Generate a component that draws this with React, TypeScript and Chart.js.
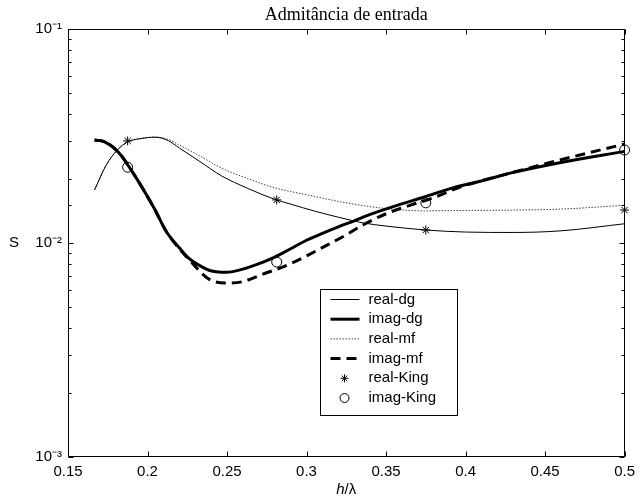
import React, { useEffect, useRef } from 'react';
import { Chart, registerables } from 'chart.js';

Chart.register(...registerables);

const TITLE = 'Admitância de entrada';
const X_TITLE_ITALIC = 'h';
const X_TITLE_REST = '/λ';
const Y_TITLE = 'S';

const X_MIN = 0.15;
const X_MAX = 0.5;
const X_STEP = 0.05;
const Y_MIN = 0.001;
const Y_MAX = 0.1;

const seriesLabels = ['real-dg', 'imag-dg', 'real-mf', 'imag-mf', 'real-King', 'imag-King'];

const realDgX = [0.1667, 0.174, 0.181, 0.1875, 0.195, 0.205, 0.213, 0.22, 0.233, 0.2465, 0.263, 0.28, 0.29, 0.305, 0.32, 0.336, 0.35, 0.375, 0.4, 0.43, 0.46, 0.5];
const realDgY = [0.0177, 0.0231, 0.0272, 0.0297, 0.0307, 0.0312, 0.0301, 0.0278, 0.024, 0.0206, 0.018, 0.016, 0.0152, 0.0141, 0.0132, 0.0124, 0.012, 0.0115, 0.01125, 0.0112, 0.0114, 0.0123];

const imagDgX = [0.1667, 0.173, 0.182, 0.1917, 0.204, 0.212, 0.22, 0.2259, 0.232, 0.2403, 0.25, 0.257, 0.268, 0.28, 0.29, 0.3, 0.31, 0.32, 0.33, 0.34, 0.357, 0.374, 0.392, 0.41, 0.428, 0.46, 0.5];
const imagDgY = [0.0303, 0.0297, 0.0264, 0.0208, 0.0146, 0.01125, 0.0095, 0.0085, 0.0079, 0.0074, 0.0073, 0.00745, 0.0079, 0.0086, 0.0094, 0.0103, 0.0111, 0.0119, 0.0127, 0.0136, 0.015, 0.0164, 0.0181, 0.0195, 0.0212, 0.0238, 0.0268];

const realMfX = [0.1667, 0.174, 0.181, 0.1875, 0.195, 0.205, 0.213, 0.22, 0.233, 0.2465, 0.263, 0.28, 0.3, 0.3256, 0.346, 0.374, 0.4, 0.43, 0.46, 0.5];
const realMfY = [0.0177, 0.0231, 0.0272, 0.0297, 0.0307, 0.0313, 0.0305, 0.0287, 0.0255, 0.0224, 0.02, 0.0181, 0.0168, 0.01538, 0.0146, 0.01413, 0.0142, 0.01425, 0.0144, 0.015];

const imagMfX = [0.1667, 0.173, 0.182, 0.1917, 0.204, 0.212, 0.218, 0.2278, 0.2384, 0.249, 0.26, 0.2714, 0.2883, 0.3132, 0.3238, 0.336, 0.35, 0.365, 0.38, 0.397, 0.428, 0.46, 0.5];
const imagMfY = [0.0303, 0.0297, 0.0264, 0.0208, 0.0146, 0.01125, 0.0098, 0.0081, 0.0068, 0.0065, 0.0066, 0.0071, 0.0079, 0.0098, 0.0108, 0.0122, 0.0137, 0.015, 0.0163, 0.0183, 0.0212, 0.0245, 0.029];

const kingX = [0.1875, 0.28125, 0.375, 0.5];
const realKingY = [0.03, 0.0159, 0.0115, 0.01425];
const imagKingY = [0.0226, 0.00815, 0.0154, 0.0272];

const SANS = 'Arial, "Liberation Sans", Helvetica, sans-serif';
const SERIF = '"Times New Roman", "Liberation Serif", serif';

const zip = (xs: number[], ys: number[]) => xs.map((x, i) => ({ x, y: ys[i] }));

const SUP: Record<string, string> = { '-': '⁻', '0': '⁰', '1': '¹', '2': '²', '3': '³', '4': '⁴', '5': '⁵' };
const supStr = (n: number) => String(n).split('').map((c) => SUP[c] || c).join('');

const isPow10 = (v: number) => {
  const e = Math.log10(v);
  return Math.abs(e - Math.round(e)) < 1e-6;
};

function drawStar(ctx: CanvasRenderingContext2D, x: number, y: number, r: number) {
  ctx.beginPath();
  ctx.moveTo(x - r, y); ctx.lineTo(x + r, y);
  ctx.moveTo(x, y - r); ctx.lineTo(x, y + r);
  const d = r * 0.7071;
  ctx.moveTo(x - d, y - d); ctx.lineTo(x + d, y + d);
  ctx.moveTo(x - d, y + d); ctx.lineTo(x + d, y - d);
  ctx.stroke();
}

const framePlugin = {
  id: 'matlabFrame',
  afterDraw(chart: any) {
    const { ctx, chartArea: ca, scales } = chart;
    const xs = scales.x;
    const ys = scales.y;
    const L = Math.round(ca.left) + 0.5;
    const R = Math.round(ca.right) - 0.5;
    const T = Math.round(ca.top) + 0.5;
    const B = Math.round(ca.bottom) - 0.5;
    ctx.save();
    ctx.strokeStyle = '#000';
    ctx.lineWidth = 1;
    ctx.setLineDash([]);
    ctx.strokeRect(L, T, R - L, B - T);
    ctx.beginPath();
    xs.ticks.forEach((t: any) => {
      const px = Math.round(xs.getPixelForValue(t.value)) + 0.5;
      ctx.moveTo(px, B); ctx.lineTo(px, B - 5);
      ctx.moveTo(px, T); ctx.lineTo(px, T + 5);
    });
    ys.ticks.forEach((t: any) => {
      const py = Math.round(ys.getPixelForValue(t.value)) + 0.5;
      const len = isPow10(t.value) ? 5 : 3;
      ctx.moveTo(L, py); ctx.lineTo(L + len, py);
      ctx.moveTo(R, py); ctx.lineTo(R - len, py);
    });
    ctx.stroke();

    // axis titles
    ctx.fillStyle = '#000';
    ctx.textBaseline = 'middle';
    ctx.textAlign = 'center';
    ctx.font = `15px ${SANS}`;
    ctx.fillText(Y_TITLE, 14, ys.getPixelForValue(0.01));
    const italicFont = `italic 15px ${SANS}`;
    const normalFont = `15px ${SANS}`;
    ctx.font = italicFont;
    const w1 = ctx.measureText(X_TITLE_ITALIC).width;
    ctx.font = normalFont;
    const w2 = ctx.measureText(X_TITLE_REST).width;
    const cx = (ca.left + ca.right) / 2;
    const ty = 490;
    ctx.textAlign = 'left';
    ctx.font = italicFont;
    ctx.fillText(X_TITLE_ITALIC, cx - (w1 + w2) / 2, ty);
    ctx.font = normalFont;
    ctx.fillText(X_TITLE_REST, cx - (w1 + w2) / 2 + w1, ty);

    // legend
    const lx = Math.round(ca.left + 252) + 0.5;
    const ly = Math.round(ca.top + 260) + 0.5;
    const lw = 137;
    const lh = 126;
    ctx.fillStyle = '#fff';
    ctx.fillRect(lx, ly, lw, lh);
    ctx.strokeStyle = '#000';
    ctx.lineWidth = 1;
    ctx.strokeRect(lx, ly, lw, lh);
    chart.data.datasets.forEach((ds: any, i: number) => {
      const cy = ly + 10 + i * 19.7;
      ctx.save();
      ctx.strokeStyle = ds.borderColor;
      if (ds.showLine) {
        ctx.lineWidth = ds.borderWidth;
        ctx.setLineDash(ds.borderDash || []);
        ctx.beginPath();
        ctx.moveTo(lx + 10, cy);
        ctx.lineTo(lx + 39, cy);
        ctx.stroke();
      } else {
        ctx.lineWidth = 1;
        if (ds.pointStyle === 'star') {
          drawStar(ctx, lx + 24, cy, 4);
        } else {
          ctx.beginPath();
          ctx.arc(lx + 24, cy, 4.5, 0, Math.PI * 2);
          ctx.fillStyle = '#fff';
          ctx.fill();
          ctx.stroke();
        }
      }
      ctx.restore();
      ctx.fillStyle = '#000';
      ctx.font = `15px ${SANS}`;
      ctx.textAlign = 'left';
      ctx.textBaseline = 'middle';
      ctx.fillText(ds.label, lx + 48, cy);
    });
    ctx.restore();
  },
};

export default function App() {
  const ref = useRef<HTMLCanvasElement>(null);
  useEffect(() => {
    if (!ref.current) return;
    const lineBase = { showLine: true, pointRadius: 0, fill: false, cubicInterpolationMode: 'monotone' as const };
    const chart = new Chart(ref.current, {
      type: 'scatter',
      data: {
        datasets: [
          { ...lineBase, label: seriesLabels[0], data: zip(realDgX, realDgY), borderColor: '#000', borderWidth: 1 },
          { ...lineBase, label: seriesLabels[1], data: zip(imagDgX, imagDgY), borderColor: '#000', borderWidth: 3 },
          { ...lineBase, label: seriesLabels[2], data: zip(realMfX, realMfY), borderColor: '#444', borderWidth: 1, borderDash: [1.5, 1.5] },
          { ...lineBase, label: seriesLabels[3], data: zip(imagMfX, imagMfY), borderColor: '#000', borderWidth: 3, borderDash: [10, 6] },
          { label: seriesLabels[4], data: zip(kingX, realKingY), showLine: false, pointStyle: 'star', pointRadius: 4.5, borderColor: '#000', backgroundColor: '#000', borderWidth: 1, clip: false } as any,
          { label: seriesLabels[5], data: zip(kingX, imagKingY), showLine: false, pointStyle: 'circle', pointRadius: 5, borderColor: '#000', backgroundColor: '#fff', borderWidth: 1, clip: false } as any,
        ],
      },
      options: {
        animation: false,
        responsive: false,
        events: [],
        layout: { padding: { left: 0, right: 11, top: 0, bottom: 0 } },
        plugins: {
          legend: { display: false },
          tooltip: { enabled: false },
          title: {
            display: true,
            text: TITLE,
            fullSize: false,
            color: '#000',
            font: { family: SERIF, size: 18, weight: 'normal' },
            padding: { top: 4, bottom: 3.4 },
          },
        },
        scales: {
          x: {
            type: 'linear',
            min: X_MIN,
            max: X_MAX,
            grid: { display: false, drawTicks: false },
            border: { display: false },
            ticks: {
              stepSize: X_STEP,
              autoSkip: false,
              maxRotation: 0,
              padding: 6,
              color: '#000',
              font: { family: SANS, size: 15 },
              callback: (v: any) => String(Number(Number(v).toFixed(2))),
            },
            afterFit: (s: any) => { s.height = 44; },
          },
          y: {
            type: 'logarithmic',
            min: Y_MIN,
            max: Y_MAX,
            grid: { display: false, drawTicks: false },
            border: { display: false },
            ticks: {
              autoSkip: false,
              padding: 6,
              color: '#000',
              font: { family: SANS, size: 15 },
              callback: (v: any) => (isPow10(Number(v)) ? '10' + supStr(Math.round(Math.log10(Number(v)))) : ''),
            },
            afterFit: (s: any) => { s.width = 68; },
          },
        },
      },
      plugins: [framePlugin],
    } as any);
    return () => chart.destroy();
  }, []);
  return (
    <div style={{ position: 'absolute', left: 0, top: 0, width: 641, height: 501, background: '#fff' }}>
      <canvas ref={ref} width={641} height={501} style={{ display: 'block', width: 641, height: 501 }} />
    </div>
  );
}
